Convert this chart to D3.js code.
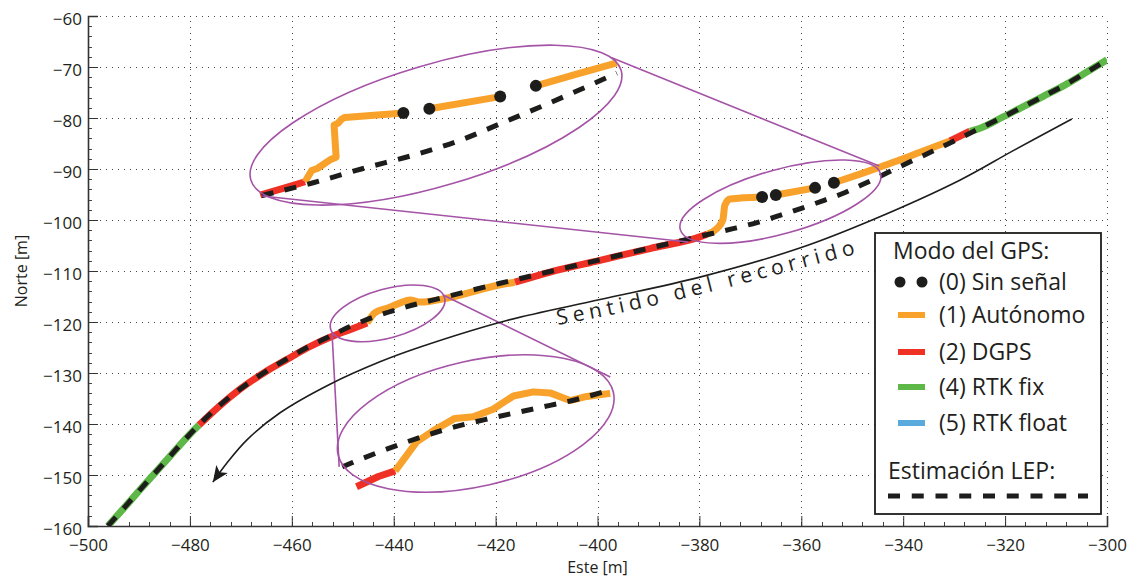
<!DOCTYPE html>
<html>
<head>
<meta charset="utf-8">
<script src="https://cdn.jsdelivr.net/npm/d3@7"></script>
<style>
  body { margin: 0; background: #fff; }
  svg { display: block; }
  text { font-family: "Open Sans", "Noto Sans", sans-serif; fill: #231f20; }
</style>
</head>
<body>
<svg id="chart" width="1128" height="581"></svg>
<script>
// ---- axis ticks ----
const xTicks = [-500, -480, -460, -440, -420, -400, -380, -360, -340, -320, -300];
const yTicks = [-160, -150, -140, -130, -120, -110, -100, -90, -80, -70, -60];

// ---- LEP estimate (Este, Norte) ----
const lepX = [-496.1,-492.7,-489.8,-484.5,-480.0,-474.1,-470.2,-464.9,-460.9,-457.0,-452.5,-448.6,-444.1,-438.8,-429.9,-419.1,-409.3,-399.5,-389.7,-379.9,-373.4,-368.7,-364.2,-359.7,-355.4,-351.4,-348.1,-344.5,-340.6,-336.3,-329.2,-324.9,-320.6,-316.9,-312.6,-308.2,-304.3,-300.0];
const lepY = [-160.0,-156.2,-152.9,-147.0,-142.0,-136.3,-133.2,-129.6,-127.2,-125.0,-122.8,-120.9,-119.1,-117.4,-115.1,-112.4,-110.1,-107.8,-105.5,-103.2,-101.7,-100.5,-99.1,-97.6,-96.1,-94.6,-93.1,-91.4,-89.5,-87.5,-84.1,-82.0,-79.9,-78.0,-75.8,-73.5,-71.2,-68.6];

// ---- GPS track; mode of the segment that ends at each point (0 = no signal) ----
const gpsX = [-496.1,-492.7,-489.8,-484.5,-480.0,-478.2,
  -474.1,-470.2,-464.9,-460.9,-457.0,-452.5,-448.6,-445.2,
  -443.7,-441.3,-438.8,-436.8,-434.8,-429.5,-419.1,-416.2,
  -409.3,-399.5,-389.7,-379.9,-378.5,
  -376.7,-375.4,-375.0,-374.0,-367.7,
  -365.0, -357.3, -353.6,
  -348.5,-344.5,-340.6,-336.7,-330.8,
  -326.9,
  -324.9,-320.6,-316.9,-312.6,-308.2,-304.3,-300.0];
const gpsY = [-160.0,-156.2,-152.9,-147.0,-142.0,-140.2,
  -136.4,-133.2,-129.6,-127.3,-125.1,-123.0,-121.5,-120.2,
  -118.2,-117.3,-116.3,-115.7,-116.1,-115.3,-112.7,-112.2,
  -110.2,-107.9,-105.6,-103.3,-102.8,
  -101.8,-100.0,-97.1,-95.9,-95.5,
  -95.1, -93.7, -92.7,
  -91.0,-89.6,-88.2,-86.7,-84.5,
  -82.6,
  -82.0,-79.9,-78.0,-75.8,-73.5,-71.2,-68.6];
const gpsMode = [4,4,4,4,4,4, 2,2,2,2,2,2,2,2, 1,1,1,1,1,1,1,1, 2,2,2,2,2, 1,1,1,1,1, 0, 1, 0, 1,1,1,1,1, 2, 4,4,4,4,4,4,4];

// ---- enlarged detail, upper ----
const topLepX = [-465.9,-455.8,-446.0,-436.2,-427.3,-418.8,-410.0,-401.1,-396.2];
const topLepY = [-95.2,-92.7,-89.9,-87.3,-84.5,-81.0,-77.3,-73.4,-71.2];
const topGpsX = [-466.2,-461.7,-457.4,-456.1,-455.0,-452.5,-451.3,-451.7,-450.9,-450.2,-449.6,-438.1,-433.0,-419.1,-412.1,-404.1,-396.2];
const topGpsY = [-95.1,-93.8,-92.5,-90.3,-89.9,-88.2,-87.7,-81.4,-81.0,-80.2,-79.9,-79.0,-78.2,-75.8,-73.7,-71.4,-69.2];
const topGpsMode = [2,2,2,1,1,1,1,1,1,1,1,1,0,1,0,1,1];

// ---- enlarged detail, lower ----
const lowLepX = [-450.1,-448.2,-438.8,-430.3,-421.1,-411.9,-403.4,-397.5];
const lowLepY = [-148.4,-147.6,-144.0,-141.2,-138.9,-136.9,-135.0,-133.3];
const lowGpsX = [-447.3,-443.0,-439.7,-435.5,-432.2,-428.0,-424.4,-420.5,-416.5,-412.6,-409.3,-405.4,-402.1,-397.5];
const lowGpsY = [-152.3,-150.3,-149.2,-143.5,-141.3,-138.9,-138.6,-137.1,-134.5,-133.7,-133.9,-135.4,-134.6,-134.0];
const lowGpsMode = [2,2,2,1,1,1,1,1,1,1,1,1,1,1];

// ---- highlight ellipses (centre, semi-axes in metres, tilt in degrees) ----
const ellCx = [-431.7, -364.1, -441.2, -423.9];
const ellCy = [-81.4, -96.4, -118.3, -139.9];
const ellRx = [37.9, 20.4, 11.6, 27.7];
const ellRy = [11.9, 6.3, 4.8, 12.3];
const ellAngle = [16.5, 15.6, 15.4, 12.7];

// ---- connector lines between ellipses ----
const linkX1 = [-465.8, -397.2, -452.1, -430.3];
const linkY1 = [-95.3, -68.2, -122.2, -114.7];
const linkX2 = [-382.2, -344.7, -450.7, -397.5];
const linkY2 = [-104.3, -89.4, -148.4, -130.8];

// ---- direction of travel arrow and its caption baseline ----
const dirX = [-306.9,-318.4,-328.9,-346.1,-360.3,-379.9,-399.5,-417.8,-434.8,-442.7,-452.5,-462.3,-468.8,-472.7,-475.5];
const dirY = [-80.2,-86.4,-92.2,-100.0,-105.5,-111.2,-115.6,-119.7,-124.9,-127.8,-132.2,-137.8,-143.1,-147.6,-151.4];
const captionX = [-407.8, -385.2, -348.0];
const captionY = [-120.6, -115.9, -106.3];
const captionText = "Sentido del recorrido";

// ---- legend ----
const legendModes = [1, 2, 4, 5];
const legendLabels = ["(1) Autónomo", "(2) DGPS", "(4) RTK fix", "(5) RTK float"];
const modeColor = {1: "#f8a22c", 2: "#ee3124", 4: "#5eb848", 5: "#5aaade"};

const svg = d3.select("#chart");
const x = d3.scaleLinear().domain([-500, -300]).range([88, 1107]);
const y = d3.scaleLinear().domain([-160, -60]).range([526, 16]);
const kx = x(1) - x(0), ky = y(0) - y(1);
const crisp = v => Math.round(v) + 0.5;

const defs = svg.append("defs");
defs.append("clipPath").attr("id", "plot")
  .append("rect").attr("x", 88).attr("y", 16).attr("width", 1019).attr("height", 510);
defs.append("marker")
  .attr("id", "arrow").attr("viewBox", "-17 -8 18 16")
  .attr("refX", 0).attr("refY", 0)
  .attr("markerWidth", 18).attr("markerHeight", 16)
  .attr("markerUnits", "userSpaceOnUse").attr("orient", "auto")
  .append("path").attr("d", "M0,0 L-16,-7 L-12,0 L-16,7 Z").attr("fill", "#1d1d1b");

// grid
const grid = svg.append("g").attr("stroke", "#444").attr("stroke-width", 1).attr("stroke-dasharray", "1,5");
grid.selectAll(".gx").data(xTicks.slice(1)).join("line")
  .attr("x1", d => crisp(x(d))).attr("x2", d => crisp(x(d))).attr("y1", y(-160)).attr("y2", y(-60));
grid.selectAll(".gy").data(yTicks.slice(1)).join("line")
  .attr("y1", d => crisp(y(d))).attr("y2", d => crisp(y(d))).attr("x1", x(-500)).attr("x2", x(-300));

// minor ticks
const minor = svg.append("g").attr("stroke", "#444").attr("stroke-width", 1);
minor.selectAll(".mx").data(d3.range(-500, -299, 4)).join("line")
  .attr("x1", d => crisp(x(d))).attr("x2", d => crisp(x(d))).attr("y1", y(-160)).attr("y2", y(-160) - 4);
minor.selectAll(".my").data(d3.range(-160, -59, 2)).join("line")
  .attr("y1", d => crisp(y(d))).attr("y2", d => crisp(y(d))).attr("x1", x(-500)).attr("x2", x(-500) + 4);

// axes
const fmt = d3.format("d");
const xAxis = svg.append("g").attr("transform", `translate(0,${y(-160)})`)
  .call(d3.axisBottom(x).tickValues(xTicks).tickFormat(fmt).tickSize(-10).tickPadding(13));
const yAxis = svg.append("g").attr("transform", `translate(${x(-500)},0)`)
  .call(d3.axisLeft(y).tickValues(yTicks).tickFormat(fmt).tickSize(-10).tickPadding(6));
[xAxis, yAxis].forEach(a => {
  a.select(".domain").attr("stroke", "#333").attr("stroke-width", 1.6);
  a.selectAll(".tick line").attr("stroke", "#333").attr("stroke-width", 1);
  a.selectAll(".tick text").attr("font-family", "\"Open Sans\", sans-serif").attr("font-size", 17).attr("fill", "#231f20");
});
yAxis.selectAll(".tick text").attr("dy", "0.5em");
xAxis.selectAll(".tick text").attr("dy", "0.71em");

svg.append("text").attr("x", (x(-500) + x(-300)) / 2).attr("y", 573)
  .attr("text-anchor", "middle").attr("font-size", 16).text("Este [m]");
svg.append("text").attr("transform", `translate(27,${(y(-160) + y(-60)) / 2}) rotate(-90)`)
  .attr("text-anchor", "middle").attr("font-size", 16).text("Norte [m]");

const plot = svg.append("g").attr("clip-path", "url(#plot)");
const smooth = d3.line().x(d => x(d[0])).y(d => y(d[1])).curve(d3.curveMonotoneX);
const rounded = d3.line().x(d => x(d[0])).y(d => y(d[1])).curve(d3.curveCatmullRom);
const straight = d3.line().x(d => x(d[0])).y(d => y(d[1]));

// a GPS track: consecutive segments with the same mode merged into one polyline
function drawTrack(g, X, Y, M, lineGen) {
  const pts = X.map((v, i) => [v, Y[i]]);
  const runs = [];
  const lost = [];
  for (let i = 1; i < pts.length; i++) {
    const m = M[i];
    if (m === 0) { lost.push(pts[i - 1], pts[i]); continue; }
    const last = runs[runs.length - 1];
    if (last && last.mode === m && last.end === i - 1) { last.pts.push(pts[i]); last.end = i; }
    else runs.push({mode: m, pts: [pts[i - 1], pts[i]], end: i});
  }
  g.selectAll(null).data(runs).join("path")
    .attr("d", r => lineGen(r.pts)).attr("fill", "none")
    .attr("stroke", r => modeColor[r.mode]).attr("stroke-width", 7)
    .attr("stroke-linejoin", "round");
  return lost;
}
function drawLep(g, X, Y) {
  g.append("path").attr("d", smooth(X.map((v, i) => [v, Y[i]])))
    .attr("fill", "none").attr("stroke", "#1d1d1b").attr("stroke-width", 5)
    .attr("stroke-dasharray", "12,11.5");
}
function drawLost(g, pts) {
  g.selectAll(null).data(pts).join("circle")
    .attr("cx", d => x(d[0])).attr("cy", d => y(d[1])).attr("r", 6).attr("fill", "#1d1d1b");
}

const lostMain = drawTrack(plot, gpsX, gpsY, gpsMode, smooth);
drawLep(plot, lepX, lepY);
drawLost(plot, lostMain);

const lostTop = drawTrack(plot, topGpsX, topGpsY, topGpsMode, straight);
drawLep(plot, topLepX, topLepY);
drawLost(plot, lostTop);

const lostLow = drawTrack(plot, lowGpsX, lowGpsY, lowGpsMode, straight);
drawLep(plot, lowLepX, lowLepY);
drawLost(plot, lostLow);

// highlight ellipses and connectors
const hl = plot.append("g").attr("fill", "none").attr("stroke", "#a453a6").attr("stroke-width", 1.6);
hl.selectAll("ellipse").data(ellCx).join("ellipse")
  .attr("transform", (d, i) => `translate(${x(d)},${y(ellCy[i])}) rotate(${-ellAngle[i]})`)
  .attr("rx", (d, i) => ellRx[i] * kx).attr("ry", (d, i) => ellRy[i] * ky);
hl.selectAll("line").data(linkX1).join("line")
  .attr("x1", d => x(d)).attr("y1", (d, i) => y(linkY1[i]))
  .attr("x2", (d, i) => x(linkX2[i])).attr("y2", (d, i) => y(linkY2[i]));

// direction of travel
plot.append("path").attr("d", rounded(dirX.map((v, i) => [v, dirY[i]])))
  .attr("fill", "none").attr("stroke", "#1d1d1b").attr("stroke-width", 1.6)
  .attr("marker-end", "url(#arrow)");
defs.append("path").attr("id", "captionPath")
  .attr("d", d3.line().x(d => x(d[0])).y(d => y(d[1])).curve(d3.curveNatural)(captionX.map((v, i) => [v, captionY[i]])));
svg.append("text").attr("font-size", 21).attr("letter-spacing", 5)
  .append("textPath").attr("href", "#captionPath").text(captionText);

// legend
const lg = svg.append("g");
lg.append("rect").attr("x", 875).attr("y", 233).attr("width", 226).attr("height", 281)
  .attr("fill", "#fff").attr("stroke", "#1d1d1b").attr("stroke-width", 1.8);
lg.append("text").attr("x", 893).attr("y", 259).attr("font-size", 23).text("Modo del GPS:");
lg.selectAll(".ld").data([900, 922]).join("circle")
  .attr("cx", d => d).attr("cy", 282).attr("r", 5.5).attr("fill", "#1d1d1b");
lg.append("text").attr("x", 939).attr("y", 290).attr("font-size", 23).text("(0) Sin señal");
const rowY = [315, 352, 387, 423];
lg.selectAll(".ls").data(legendModes).join("line")
  .attr("x1", 898).attr("x2", 925).attr("y1", (d, i) => rowY[i]).attr("y2", (d, i) => rowY[i])
  .attr("stroke", d => modeColor[d]).attr("stroke-width", 6);
lg.selectAll(".lt").data(legendLabels).join("text")
  .attr("x", 939).attr("y", (d, i) => rowY[i] + 7.5).attr("font-size", 23).text(d => d);
lg.append("text").attr("x", 888).attr("y", 479).attr("font-size", 23).text("Estimación LEP:");
lg.append("line").attr("x1", 888).attr("x2", 1088).attr("y1", 496).attr("y2", 496)
  .attr("stroke", "#1d1d1b").attr("stroke-width", 5).attr("stroke-dasharray", "12,11.75");
</script>
</body>
</html>
